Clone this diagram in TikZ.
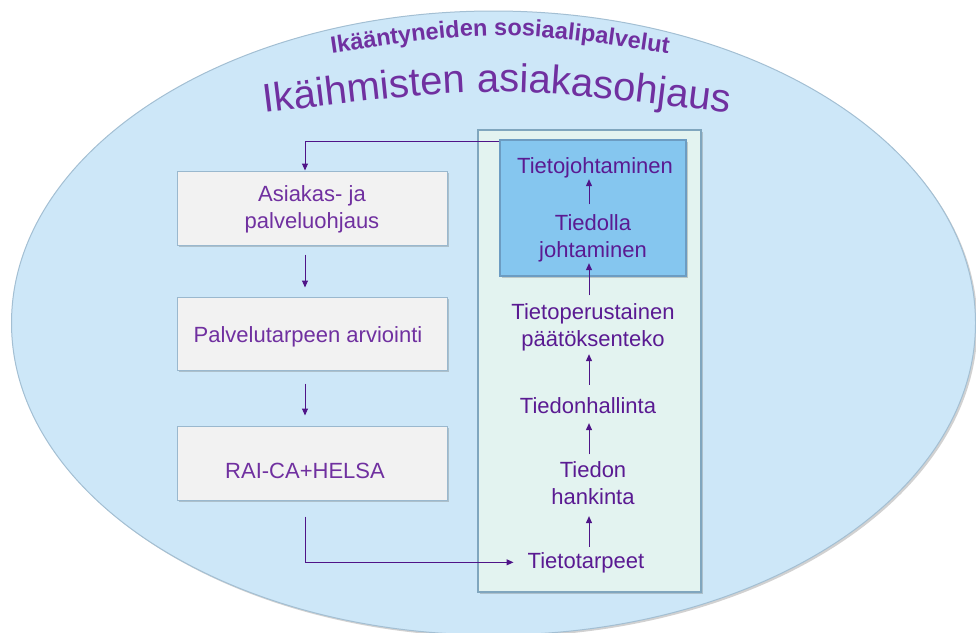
\documentclass[tikz,border=0pt]{standalone}
\usepackage{fontspec}
\setmainfont{Liberation Sans}
\usetikzlibrary{arrows.meta,shadows,decorations.text,calc}
\definecolor{ellfill}{HTML}{CDE7F8}
\definecolor{ellline}{HTML}{A3BFD3}
\definecolor{boxfill}{HTML}{F2F2F2}
\definecolor{boxline}{HTML}{9AB8CE}
\definecolor{panfill}{HTML}{E3F3F0}
\definecolor{panline}{HTML}{80A6BE}
\definecolor{dkfill}{HTML}{85C6EF}
\definecolor{dkline}{HTML}{6C9CC2}
\definecolor{lpurple}{HTML}{7030A0}
\definecolor{dpurple}{HTML}{5A1A92}
\definecolor{arrcol}{HTML}{4F1488}
\newcommand\ftxt{\fontsize{22}{26.4}\selectfont}
\newcommand\mytitlefont{\fontsize{40}{48}\selectfont\color{lpurple}}
\newcommand\mysubfont{\fontsize{23.5}{28}\selectfont\bfseries\color{lpurple}}
\begin{document}
\begin{tikzpicture}[x=1pt,y=-1pt,
  sh/.style={drop shadow={shadow xshift=2pt,shadow yshift=-2pt,opacity=0.3,fill=black!60}},
  lbox/.style={draw=boxline,line width=1pt,fill=boxfill,sh,minimum width=270pt,inner sep=0pt},
  ltxt/.style={text=lpurple,font=\ftxt,align=center,anchor=base,inner sep=0pt},
  rtxt/.style={text=dpurple,font=\ftxt,align=center,anchor=base,inner sep=0pt},
  arr/.style={draw=arrcol,line width=1pt,-{Triangle[length=7pt,width=6pt]}},
]
\useasboundingbox (0,0) rectangle (976,632);
% outer ellipse
\path[fill=ellfill,draw=ellline,line width=1pt,sh] (493.5,323) ellipse [x radius=482pt, y radius=312pt];
% arched titles
\path[decorate,decoration={text along path,text align=center,
  text={|\mysubfont|Ikääntyneiden sosiaalipalvelut}}]
  (300,58) .. controls (500,28) .. (700,58);
\path[decorate,decoration={text along path,text align=center,
  text={|\mytitlefont|Ikäihmisten asiakasohjaus}}]
  (240,116) .. controls (497,84) .. (754,116);
% left boxes
\node[lbox,minimum height=74pt] (b1) at (312,208) {};
\node[lbox,minimum height=73pt] (b2) at (312,333.5) {};
\node[lbox,minimum height=74pt] (b3) at (312,463) {};
\node[ltxt] (t1) at (312,228) {Asiakas- ja\\palveluohjaus};
\node[ltxt] (t2) at (308,342) {Palvelutarpeen arviointi};
\node[ltxt] (t3) at (305,478) {RAI-CA+HELSA};
% right panel
\node[draw=panline,fill=panfill,line width=1.5pt,sh,minimum width=223pt,minimum height=462pt,inner sep=0pt] (panel) at (589.5,361) {};
\node[draw=dkline,fill=dkfill,line width=1.5pt,sh,minimum width=186pt,minimum height=136pt,inner sep=0pt] (dbox) at (593,208) {};
\node[rtxt] (r1) at (595,173) {Tietojohtaminen};
\node[rtxt] (r2) at (593,257) {Tiedolla\\johtaminen};
\node[rtxt] (r3) at (593,346) {Tietoperustainen\\päätöksenteko};
\node[rtxt] (r4) at (588,413) {Tiedonhallinta};
\node[rtxt] (r5) at (593,504) {Tiedon\\hankinta};
\node[rtxt] (r6) at (586,568) {Tietotarpeet};
% guide coordinates
\coordinate (ax) at (305,0);
\coordinate (ax2) at (589,0);
% left connectors
\draw[arr] ([yshift=-2pt]dbox.north west) -| (b1.north -| ax);
\draw[arr,shorten <=9pt,shorten >=9pt] (b1.south -| ax) -- (b2.north -| ax);
\draw[arr,shorten <=13pt,shorten >=10pt] (b2.south -| ax) -- (b3.north -| ax);
\draw[arr,shorten <=16pt,shorten >=14pt] (b3.south -| ax) |- (r6.west);
% right connectors
\draw[arr,shorten <=10pt,shorten >=1.4pt] (r2.north -| ax2) -- (r1.south -| ax2);
\draw[arr,shorten <=8pt,shorten >=1.4pt] (r3.north -| ax2) -- (r2.south -| ax2);
\draw[arr,shorten <=12pt,shorten >=3.4pt] (r4.north -| ax2) -- (r3.south -| ax2);
\draw[arr,shorten <=7pt,shorten >=9.7pt] (r5.north -| ax2) -- (r4.south -| ax2);
\draw[arr,shorten <=5pt,shorten >=11.7pt] (r6.north -| ax2) -- (r5.south -| ax2);
\end{tikzpicture}
\end{document}
